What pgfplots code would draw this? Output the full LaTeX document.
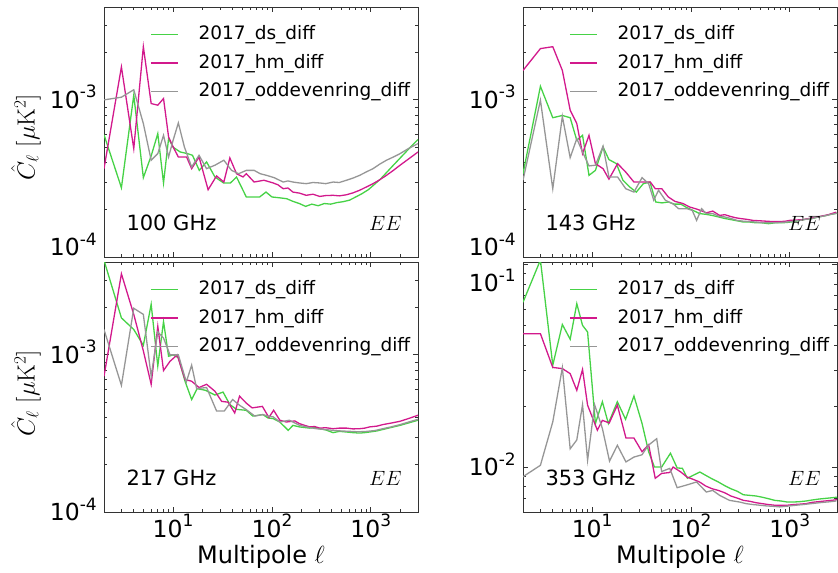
\documentclass[border=0pt]{standalone}
\usepackage[no-math]{fontspec}
\setmainfont{DejaVu Sans}
\usepackage{pgfplots}
\pgfplotsset{compat=1.18}

\definecolor{cds}{RGB}{70,210,70}
\definecolor{chm}{RGB}{210,25,140}
\definecolor{cod}{RGB}{150,150,150}

% 10^{n} written as in the figure (sans digits, raised exponent)
\newcommand{\tp}[1]{10\raisebox{10.5bp}{\fontsize{17bp}{17bp}\selectfont #1}}

\pgfplotsset{
  panel/.style={
    scale only axis, width=314bp, height=250bp,
    xmin=2, xmax=3000,
    axis line style={draw=black!80, line width=0.9bp},
    every tick/.style={black!80, line width=0.8bp},
    major tick length=5bp, minor tick length=3bp,
    tick align=inside,
    xtick={10,100,1000},
    minor xtick={3,4,5,6,7,8,9,20,30,40,50,60,70,80,90,200,300,400,500,600,700,800,900,2000},
    xticklabels={},
    tick label style={font=\fontsize{23.5bp}{23.5bp}\selectfont, inner sep=0pt},
    yticklabel style={anchor=base east, xshift=-7bp, yshift=-8.5bp},
    xticklabel style={anchor=base, yshift=-25bp},
    legend style={draw=none, fill=none, at={(0.1465,0.925)}, anchor=north west,
      inner sep=0pt, row sep=9.5bp, column sep=20bp,
      font=\fontsize{18.5bp}{18.5bp}\selectfont,
      nodes={inner sep=0pt, text height=14bp, text depth=5bp}},
    legend cell align=left,
    legend image code/.code={\draw[#1, line width=1.3bp] (0bp,1bp) -- (27bp,1bp);},
    every axis plot/.append style={line width=1.3bp},
  },
  decade/.style={ymin=1e-4, ymax=3.9e-3,
    ytick={1e-4,1e-3},
    minor ytick={2e-4,3e-4,4e-4,5e-4,6e-4,7e-4,8e-4,9e-4,2e-3,3e-3}},
  bottomx/.style={xticklabels={\tp{1},\tp{2},\tp{3}},
    xlabel={Multipole $\ell$},
    xlabel style={at={(rel axis cs:0.5,0)}, anchor=base, yshift=-51bp,
      font=\fontsize{24bp}{24bp}\selectfont}},
}

\begin{document}
\begin{tikzpicture}
\path[use as bounding box] (0,0) rectangle (838bp,-573bp);

% ---------------- 100 GHz
\begin{loglogaxis}[panel, decade, at={(104bp,-7bp)}, anchor=north west,
  yticklabels={\raisebox{10bp}{\tp{-4}},\tp{-3}}]
\addplot[cds] coordinates {
(2,6.0e-4)(3,2.76e-4)(4,1.07e-3)(5,3.2e-4)(6,4.4e-4)(7,6.1e-4)(8,2.96e-4)(9,5.67e-4)(10,5.0e-4)
(11.8,4.66e-4)(14,4.55e-4)(15.7,4.44e-4)(18.4,3.56e-4)(21.8,4.03e-4)(26.5,3.23e-4)(32.4,2.96e-4)
(38,2.96e-4)(43.8,3.23e-4)(55,2.41e-4)(75,2.41e-4)(87,2.59e-4)(100,2.41e-4)(120,2.38e-4)(141,2.35e-4)
(163,2.26e-4)(189,2.19e-4)(219,2.10e-4)(253,2.17e-4)(293,2.12e-4)(339,2.19e-4)(392,2.17e-4)(454,2.22e-4)
(525,2.25e-4)(608,2.30e-4)(703,2.41e-4)(814,2.53e-4)(942,2.68e-4)(1090,2.90e-4)(1261,3.15e-4)
(1460,3.48e-4)(1690,3.84e-4)(1955,4.23e-4)(2262,4.66e-4)(2618,5.14e-4)(3000,5.59e-4)};
\addplot[chm] coordinates {
(2,3.65e-4)(3,1.62e-3)(4,4.9e-4)(5,2.18e-3)(6,9.48e-4)(7,9.25e-4)(8,1.02e-3)(9,5.81e-4)(10,5.02e-4)
(11.3,4.33e-4)(13.7,4.33e-4)(15.4,3.65e-4)(18.3,4.33e-4)(22.6,2.68e-4)(27.5,3.28e-4)(32.6,3.0e-4)
(37.5,4.27e-4)(43.8,3.39e-4)(51,3.23e-4)(55,3.39e-4)(66,3.0e-4)(83,3.08e-4)(103,2.96e-4)(115,2.88e-4)
(130,2.72e-4)(145,2.75e-4)(163,2.59e-4)(190,2.55e-4)(222,2.47e-4)(260,2.51e-4)(304,2.43e-4)
(350,2.46e-4)(415,2.47e-4)(480,2.45e-4)(567,2.49e-4)(660,2.56e-4)(771,2.66e-4)(900,2.79e-4)
(1052,2.93e-4)(1230,3.1e-4)(1439,3.31e-4)(1690,3.56e-4)(1975,3.84e-4)(2400,4.2e-4)(3000,4.66e-4)};
\addplot[cod] coordinates {
(2,1.0e-3)(3,1.04e-3)(4,1.16e-3)(5,7.07e-4)(6,4.13e-4)(7,4.55e-4)(8,5.95e-4)(9,4.33e-4)(10,5.53e-4)
(11.3,7.14e-4)(13,5.02e-4)(15.4,3.74e-4)(18.3,4.44e-4)(21.8,3.65e-4)(26.5,3.84e-4)(32.6,4.13e-4)
(39,3.56e-4)(46,3.39e-4)(55,3.56e-4)(66,3.56e-4)(76,3.39e-4)(88,3.31e-4)(105,3.2e-4)(130,3.0e-4)
(145,3.05e-4)(163,3.0e-4)(190,2.96e-4)(222,2.93e-4)(260,2.98e-4)(304,2.96e-4)(350,2.93e-4)
(415,3.0e-4)(480,2.98e-4)(567,3.08e-4)(660,3.18e-4)(771,3.31e-4)(900,3.48e-4)(1052,3.65e-4)
(1230,3.9e-4)(1439,4.13e-4)(1690,4.33e-4)(1975,4.55e-4)(2400,4.9e-4)(3000,5.27e-4)};
\legend{2017\_ds\_diff,2017\_hm\_diff,2017\_oddevenring\_diff}
\node[anchor=base west, font=\fontsize{21bp}{21bp}\selectfont] at (rel axis cs:0.0605,0.108) {100 GHz};
\node[anchor=base east, font=\fontsize{22bp}{22bp}\selectfont] at (rel axis cs:0.9586,0.108) {$EE$};
\end{loglogaxis}

% ---------------- 143 GHz
\begin{loglogaxis}[panel, decade, at={(523bp,-7bp)}, anchor=north west,
  yticklabels={\raisebox{10bp}{\tp{-4}},\tp{-3}}]
\addplot[cds] coordinates {
(2,3.39e-4)(3,1.22e-3)(4,7.7e-4)(5,7.96e-4)(6,7.7e-4)(7,5.53e-4)(8,5.95e-4)(9.3,3.31e-4)(10.8,3.56e-4)
(12.9,5.02e-4)(14.8,4.17e-4)(17.6,3.93e-4)(20.5,3.08e-4)(24,2.79e-4)(28,2.59e-4)(33,2.93e-4)
(38.5,3.0e-4)(44,2.24e-4)(51,2.21e-4)(59,2.24e-4)(68,2.17e-4)(79,2.17e-4)(91,2.06e-4)(105,1.98e-4)
(122,1.89e-4)(141,1.87e-4)(163,1.84e-4)(189,1.80e-4)(219,1.76e-4)(253,1.73e-4)(293,1.70e-4)
(339,1.67e-4)(392,1.67e-4)(454,1.65e-4)(525,1.65e-4)(608,1.63e-4)(703,1.65e-4)(814,1.65e-4)
(942,1.66e-4)(1090,1.68e-4)(1261,1.71e-4)(1460,1.74e-4)(1690,1.76e-4)(1955,1.80e-4)(2262,1.83e-4)
(2618,1.87e-4)(3000,1.90e-4)};
\addplot[chm] coordinates {
(2,1.54e-3)(3,2.12e-3)(4,2.18e-3)(5,1.54e-3)(6,8.6e-4)(7,7.07e-4)(8,4.55e-4)(9.3,5.95e-4)(10.8,3.93e-4)
(12.9,3.65e-4)(14.8,3.13e-4)(18.1,3.93e-4)(21.9,3.47e-4)(26.5,3.0e-4)(32,3.0e-4)(38.8,3.0e-4)
(43.6,2.72e-4)(50.7,2.72e-4)(59,2.41e-4)(68.9,2.26e-4)(83,2.19e-4)(97,2.08e-4)(114,2.02e-4)
(130,1.96e-4)(143,1.91e-4)(166,1.96e-4)(195,1.84e-4)(220,1.86e-4)(245,1.82e-4)(280,1.78e-4)
(311,1.76e-4)(360,1.74e-4)(425,1.71e-4)(500,1.70e-4)(579,1.69e-4)(680,1.68e-4)(788,1.68e-4)
(900,1.69e-4)(995,1.71e-4)(1150,1.72e-4)(1357,1.73e-4)(1650,1.77e-4)(2000,1.81e-4)(2450,1.86e-4)
(2950,1.93e-4)};
\addplot[cod] coordinates {
(2,3.08e-4)(3,9.96e-4)(4,2.72e-4)(5,7.86e-4)(6,4.29e-4)(7,5.67e-4)(8,4.66e-4)(9.3,3.8e-4)(10.8,3.84e-4)
(12.9,5.07e-4)(14.8,3.23e-4)(18.1,3.23e-4)(21.9,2.72e-4)(26.5,2.59e-4)(32,3.2e-4)(37.3,2.93e-4)
(42,2.30e-4)(47,2.66e-4)(55,2.30e-4)(66.5,2.17e-4)(75,2.03e-4)(91,2.03e-4)(103,1.98e-4)(114,1.71e-4)
(128,2.03e-4)(143,1.89e-4)(166,1.89e-4)(195,1.81e-4)(219,1.80e-4)(253,1.76e-4)(293,1.71e-4)
(339,1.69e-4)(392,1.68e-4)(454,1.67e-4)(525,1.65e-4)(608,1.65e-4)(703,1.65e-4)(814,1.66e-4)
(942,1.67e-4)(1090,1.69e-4)(1261,1.71e-4)(1460,1.74e-4)(1690,1.76e-4)(1955,1.80e-4)(2262,1.83e-4)
(2618,1.87e-4)(3000,1.90e-4)};
\legend{2017\_ds\_diff,2017\_hm\_diff,2017\_oddevenring\_diff}
\node[anchor=base west, font=\fontsize{21bp}{21bp}\selectfont] at (rel axis cs:0.0605,0.108) {143 GHz};
\node[anchor=base east, font=\fontsize{22bp}{22bp}\selectfont] at (rel axis cs:0.9586,0.108) {$EE$};
\end{loglogaxis}

% ---------------- 217 GHz
\begin{loglogaxis}[panel, decade, bottomx, at={(104bp,-262bp)}, anchor=north west,
  yticklabels={\tp{-4},\tp{-3}}]
\addplot[cds] coordinates {
(2,4.0e-3)(3,1.72e-3)(4,1.45e-3)(5,1.15e-3)(6,2.1e-3)(7,8.5e-4)(8,1.63e-3)(9,9.8e-4)(10,1.0e-3)
(11.3,9.6e-4)(13.2,6.8e-4)(15.4,5.2e-4)(17.5,6.1e-4)(21.3,5.95e-4)(26.5,5.55e-4)(32,5.8e-4)
(37.5,4.83e-4)(43.8,4.5e-4)(55,4.44e-4)(64,4.08e-4)(81,4.17e-4)(91,3.97e-4)(103,3.93e-4)(120,3.74e-4)
(146,3.31e-4)(163,3.56e-4)(190,3.48e-4)(240,3.42e-4)(270,3.45e-4)(304,3.39e-4)(350,3.33e-4)
(415,3.2e-4)(480,3.26e-4)(567,3.23e-4)(660,3.2e-4)(771,3.18e-4)(870,3.2e-4)(970,3.23e-4)
(1150,3.28e-4)(1320,3.35e-4)(1600,3.45e-4)(1975,3.56e-4)(2450,3.7e-4)(3000,3.84e-4)};
\addplot[chm] coordinates {
(2,7.3e-4)(3,3.28e-3)(4,1.81e-3)(5,1.06e-3)(6,6.5e-4)(7,1.52e-3)(8,7.95e-4)(9.3,9.1e-4)(11,1.0e-3)
(13.2,6.97e-4)(15.4,6.8e-4)(18.3,6.2e-4)(21.8,6.5e-4)(26.5,5.87e-4)(31,5.06e-4)(36,5.0e-4)
(42,4.27e-4)(47,5.46e-4)(55,4.93e-4)(63,4.6e-4)(80,4.7e-4)(93,4.0e-4)(104,4.44e-4)(120,3.84e-4)
(140,3.74e-4)(170,3.8e-4)(190,3.65e-4)(240,3.48e-4)(270,3.5e-4)(304,3.42e-4)(350,3.44e-4)
(415,3.39e-4)(480,3.42e-4)(567,3.42e-4)(660,3.38e-4)(771,3.39e-4)(870,3.42e-4)(970,3.48e-4)
(1150,3.52e-4)(1320,3.6e-4)(1600,3.68e-4)(1975,3.78e-4)(2450,3.95e-4)(3000,4.13e-4)};
\addplot[cod] coordinates {
(2,1.45e-3)(3,6.4e-4)(4,1.98e-3)(5,1.81e-3)(6,7.3e-4)(7,1.40e-3)(8,1.28e-3)(9.3,1.0e-3)(11.3,1.0e-3)
(13.6,6.73e-4)(15.4,8.6e-4)(17.3,6.1e-4)(21.8,6.2e-4)(27.5,4.4e-4)(33,4.4e-4)(40,5.2e-4)(47,4.78e-4)
(55,4.48e-4)(67,4.08e-4)(81,4.17e-4)(91,4.08e-4)(103,4.03e-4)(120,3.74e-4)(150,3.84e-4)(190,3.56e-4)
(230,3.47e-4)(280,3.39e-4)(340,3.35e-4)(415,3.31e-4)(500,3.28e-4)(620,3.26e-4)(750,3.24e-4)
(910,3.26e-4)(1100,3.3e-4)(1320,3.39e-4)(1600,3.48e-4)(1975,3.6e-4)(2450,3.75e-4)(3000,3.89e-4)};
\legend{2017\_ds\_diff,2017\_hm\_diff,2017\_oddevenring\_diff}
\node[anchor=base west, font=\fontsize{21bp}{21bp}\selectfont] at (rel axis cs:0.0605,0.108) {217 GHz};
\node[anchor=base east, font=\fontsize{22bp}{22bp}\selectfont] at (rel axis cs:0.9586,0.108) {$EE$};
\end{loglogaxis}

% ---------------- 353 GHz
\begin{loglogaxis}[panel, bottomx, at={(523bp,-262bp)}, anchor=north west,
  ymin=6e-3, ymax=0.1027, ytick={0.01,0.1},
  minor ytick={7e-3,8e-3,9e-3,0.02,0.03,0.04,0.05,0.06,0.07,0.08,0.09},
  yticklabels={\tp{-2},\raisebox{-19bp}{\tp{-1}}}]
\addplot[cds] coordinates {
(2,6.5e-2)(3,0.105)(4,3.18e-2)(5,5.05e-2)(6,4.27e-2)(7,6.4e-2)(8,5.0e-2)(9,4.64e-2)(10.8,1.64e-2)
(12.7,2.1e-2)(14.6,1.64e-2)(18,2.1e-2)(21.8,1.72e-2)(26.5,2.24e-2)(32,1.64e-2)(37.3,1.19e-2)
(42.7,1.0e-2)(50.5,1.0e-2)(62,1.17e-2)(72.5,9.9e-3)(82,9.85e-3)(92,8.8e-3)(105,9.1e-3)(123,9.45e-3)
(141,9.1e-3)(163,8.75e-3)(189,8.44e-3)(219,8.1e-3)(253,7.82e-3)(293,7.6e-3)(339,7.3e-3)(392,7.25e-3)
(454,7.2e-3)(525,7.1e-3)(608,6.98e-3)(703,6.85e-3)(814,6.8e-3)(942,6.72e-3)(1090,6.72e-3)
(1261,6.75e-3)(1460,6.8e-3)(1690,6.88e-3)(1955,6.95e-3)(2262,7.0e-3)(2618,7.05e-3)(3000,7.1e-3)};
\addplot[chm] coordinates {
(2,4.55e-2)(3,4.55e-2)(4,3.1e-2)(5,3.06e-2)(6,2.89e-2)(7,2.39e-2)(8,3.03e-2)(9,2.02e-2)(11.3,1.52e-2)
(12.7,1.70e-2)(14.9,1.65e-2)(18,2.02e-2)(22,1.39e-2)(26.5,1.39e-2)(32,1.19e-2)(37.3,1.29e-2)
(43.5,8.8e-3)(50.5,9.3e-3)(61,9.4e-3)(66,1.0e-2)(79,9.45e-3)(91,8.93e-3)(105,8.7e-3)(122,8.44e-3)
(141,8.06e-3)(163,7.82e-3)(189,7.67e-3)(219,7.47e-3)(253,7.2e-3)(293,7.03e-3)(339,6.85e-3)
(392,6.78e-3)(454,6.67e-3)(525,6.6e-3)(608,6.53e-3)(703,6.48e-3)(814,6.48e-3)(942,6.48e-3)
(1090,6.53e-3)(1261,6.56e-3)(1460,6.6e-3)(1690,6.7e-3)(1955,6.75e-3)(2262,6.8e-3)(2618,6.85e-3)
(3000,6.9e-3)};
\addplot[cod] coordinates {
(2,8.96e-3)(3,1.02e-2)(4,1.67e-2)(5,3.09e-2)(6,1.23e-2)(7,1.36e-2)(8,2.03e-2)(9,1.08e-2)(10.6,2.03e-2)
(12.7,1.55e-2)(15,1.07e-2)(18,1.28e-2)(22,1.06e-2)(26.5,1.12e-2)(32,1.15e-2)(37,1.28e-2)(45,1.38e-2)
(50.5,9.5e-3)(61,9.85e-3)(72.5,7.91e-3)(90,8.15e-3)(114,8.44e-3)(143,7.53e-3)(166,7.67e-3)
(195,7.25e-3)(245,6.85e-3)(311,6.72e-3)(360,6.6e-3)(425,6.53e-3)(500,6.48e-3)(579,6.43e-3)
(680,6.4e-3)(788,6.36e-3)(900,6.4e-3)(995,6.43e-3)(1150,6.48e-3)(1357,6.53e-3)(1650,6.6e-3)
(2000,6.67e-3)(2450,6.73e-3)(2950,6.8e-3)};
\legend{2017\_ds\_diff,2017\_hm\_diff,2017\_oddevenring\_diff}
\node[anchor=base west, font=\fontsize{21bp}{21bp}\selectfont] at (rel axis cs:0.0605,0.108) {353 GHz};
\node[anchor=base east, font=\fontsize{22bp}{22bp}\selectfont] at (rel axis cs:0.9586,0.108) {$EE$};
\end{loglogaxis}

% y axis titles of the left column
\node[rotate=90, font=\fontsize{25bp}{25bp}\selectfont] at (26bp,-137bp) {$\hat{C}_\ell\ [\mu\mathrm{K}^2]$};
\node[rotate=90, font=\fontsize{25bp}{25bp}\selectfont] at (26bp,-393bp) {$\hat{C}_\ell\ [\mu\mathrm{K}^2]$};
\end{tikzpicture}
\end{document}
